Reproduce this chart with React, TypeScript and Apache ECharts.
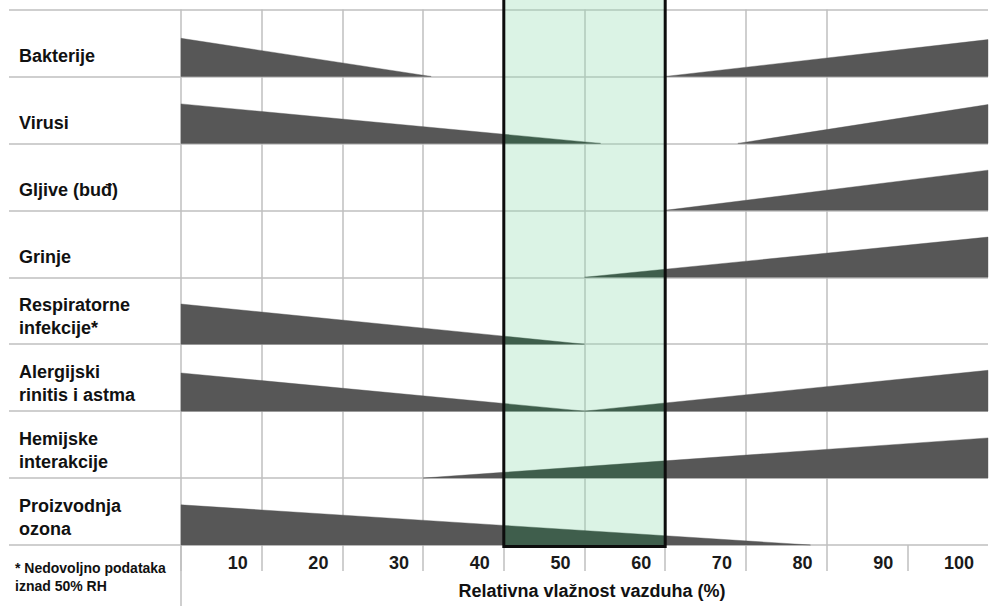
import React, { useEffect, useRef } from 'react';
import * as echarts from 'echarts';

// ---- data ----
const categories = [
  'Bakterije',
  'Virusi',
  'Gljive (buđ)',
  'Grinje',
  'Respiratorne\ninfekcije*',
  'Alergijski\nrinitis i astma',
  'Hemijske\ninterakcije',
  'Proizvodnja\nozona',
];
// RH (%) where the low-humidity risk fades to zero (null = none)
const lowEnd: (number | null)[] = [31, 52, null, null, 50, 50, null, 78];
// relative risk at 0 % RH (fraction of row height)
const lowPeak: (number | null)[] = [0.57, 0.59, null, null, 0.6, 0.57, null, 0.6];
// RH (%) where the high-humidity risk begins (null = none)
const highStart: (number | null)[] = [60, 69, 60, 50, null, 50, 30, null];
// relative risk at 100 % RH
const highPeak: (number | null)[] = [0.55, 0.58, 0.6, 0.6, null, 0.61, 0.6, null];
const optimalRange = [40, 60];
const xTickValues = [0, 10, 20, 30, 40, 50, 60, 70, 80, 90];
const xLabelValues = [10, 20, 30, 40, 50, 60, 70, 80, 90, 100];
const xAxisTitle = 'Relativna vlažnost vazduha (%)';
const footnote = '* Nedovoljno podataka\niznad 50% RH';

const GRAY = '#575757';
const GREEN_DARK = '#3f5e4c';
const GRID = '#bfbfbf';
const FONT = '"Liberation Sans", Arial, sans-serif';

export default function App() {
  const ref = useRef<HTMLDivElement>(null);
  useEffect(() => {
    document.body.style.margin = '0';
    const chart = echarts.init(ref.current!, null, { renderer: 'svg' });

    const renderWedges = (params: any, api: any) => {
      const i = params.dataIndex;
      const row = api.value(1);
      const center = api.coord([0, row]);
      const bandH = api.size([0, 1])[1];
      const baseY = center[1] + bandH / 2;
      const children: any[] = [];
      const addWedge = (x0: number, h0: number, x1: number, h1: number) => {
        const cuts = [x0, ...optimalRange.filter((v) => v > x0 && v < x1), x1];
        for (let k = 0; k < cuts.length - 1; k++) {
          const a = cuts[k];
          const b = cuts[k + 1];
          const ha = h0 + ((h1 - h0) * (a - x0)) / (x1 - x0);
          const hb = h0 + ((h1 - h0) * (b - x0)) / (x1 - x0);
          const inside = a >= optimalRange[0] && b <= optimalRange[1];
          const pa = api.coord([a, row])[0];
          const pb = api.coord([b, row])[0];
          children.push({
            type: 'polygon',
            shape: {
              points: [
                [pa, baseY],
                [pa, baseY - ha * bandH],
                [pb, baseY - hb * bandH],
                [pb, baseY],
              ],
            },
            style: { fill: inside ? GREEN_DARK : GRAY, stroke: inside ? GREEN_DARK : GRAY, lineWidth: 0.4 },
          });
        }
      };
      if (lowEnd[i] != null) addWedge(0, lowPeak[i] as number, lowEnd[i] as number, 0);
      if (highStart[i] != null) addWedge(highStart[i] as number, 0, 100, highPeak[i] as number);
      return { type: 'group', children };
    };

    const renderRowLabel = (params: any, api: any) => {
      const i = params.dataIndex;
      const row = api.value(1);
      const center = api.coord([0, row]);
      const bandH = api.size([0, 1])[1];
      const baseY = center[1] + bandH / 2;
      const text = categories[i];
      const n = text.split('\n').length;
      const lastOffset = n === 1 ? 20 : 16;
      return {
        type: 'text',
        x: params.coordSys.x - 162,
        y: baseY - lastOffset - (n - 1) * 11.5,
        style: {
          text,
          fontFamily: FONT,
          fontWeight: 'bold',
          fontSize: 18,
          lineHeight: 23,
          fill: '#111',
          align: 'left',
          verticalAlign: 'middle',
        },
      };
    };

    const renderBandFill = (params: any, api: any) => {
      const x0 = api.coord([api.value(0), 0])[0];
      const x1 = api.coord([api.value(2), 0])[0];
      const cs = params.coordSys;
      return {
        type: 'group',
        children: [
          {
            type: 'rect',
            shape: { x: x0, y: -10, width: x1 - x0, height: cs.y + cs.height + 12 },
            style: { fill: 'rgba(150,220,180,0.34)' },
          },
          {
            type: 'line',
            shape: { x1: cs.x, y1: cs.y + cs.height, x2: cs.x, y2: api.getHeight() },
            style: { stroke: GRID, lineWidth: 1.5 },
          },
        ],
      };
    };

    const renderBandBorder = (params: any, api: any) => {
      const x0 = api.coord([api.value(0), 0])[0];
      const x1 = api.coord([api.value(2), 0])[0];
      const cs = params.coordSys;
      return {
        type: 'rect',
        shape: { x: x0, y: -10, width: x1 - x0, height: cs.y + cs.height + 11.5 },
        style: { fill: null, stroke: '#0d0d0d', lineWidth: 3 },
      };
    };

    chart.setOption({
      animation: false,
      backgroundColor: '#ffffff',
      grid: { left: 181, right: 12, top: 9.5, bottom: 61 },
      xAxis: {
        type: 'value',
        min: 0,
        max: 100,
        interval: 10,
        axisLine: { show: false },
        splitLine: { show: true, showMinLine: true, showMaxLine: false, lineStyle: { color: GRID, width: 1.5 } },
        axisTick: { show: true, customValues: xTickValues, length: 26, lineStyle: { color: GRID, width: 1.5 } },
        axisLabel: {
          customValues: xLabelValues,
          align: 'right',
          padding: [0, 14, 0, 0],
          margin: 9,
          fontFamily: FONT,
          fontWeight: 'bold',
          fontSize: 18,
          color: '#1a1a1a',
        },
        name: xAxisTitle,
        nameLocation: 'middle',
        nameGap: 37,
        nameTextStyle: {
          fontFamily: FONT,
          fontWeight: 'bold',
          fontSize: 18,
          color: '#111',
          padding: [0, 0, 0, 15],
        },
      },
      yAxis: {
        type: 'category',
        data: categories,
        inverse: true,
        axisLine: { show: false },
        axisTick: { show: true, length: 172, lineStyle: { color: GRID, width: 1.5 } },
        splitLine: { show: true, lineStyle: { color: GRID, width: 1.5 } },
        axisLabel: { show: false },
      },
      graphic: [
        {
          type: 'text',
          left: 15,
          top: 559,
          style: {
            text: footnote,
            fontFamily: FONT,
            fontWeight: 'bold',
            fontSize: 14,
            lineHeight: 18,
            fill: '#111',
          },
        },
      ],
      series: [
        {
          type: 'custom',
          name: 'band-fill',
          z: 1,
          clip: false,
          silent: true,
          data: [[optimalRange[0], 0, optimalRange[1]]],
          encode: { x: 0, y: 1 },
          renderItem: renderBandFill,
        },
        {
          type: 'custom',
          name: 'wedges',
          z: 2,
          data: categories.map((_, i) => [0, i]),
          encode: { x: 0, y: 1 },
          renderItem: renderWedges,
        },
        {
          type: 'custom',
          name: 'row-labels',
          z: 2,
          clip: false,
          silent: true,
          data: categories.map((_, i) => [0, i]),
          encode: { x: 0, y: 1 },
          renderItem: renderRowLabel,
        },
        {
          type: 'custom',
          name: 'band-border',
          z: 3,
          clip: false,
          silent: true,
          data: [[optimalRange[0], 0, optimalRange[1]]],
          encode: { x: 0, y: 1 },
          renderItem: renderBandBorder,
        },
      ],
    });
    return () => chart.dispose();
  }, []);
  return <div ref={ref} style={{ width: 1000, height: 606 }} />;
}
